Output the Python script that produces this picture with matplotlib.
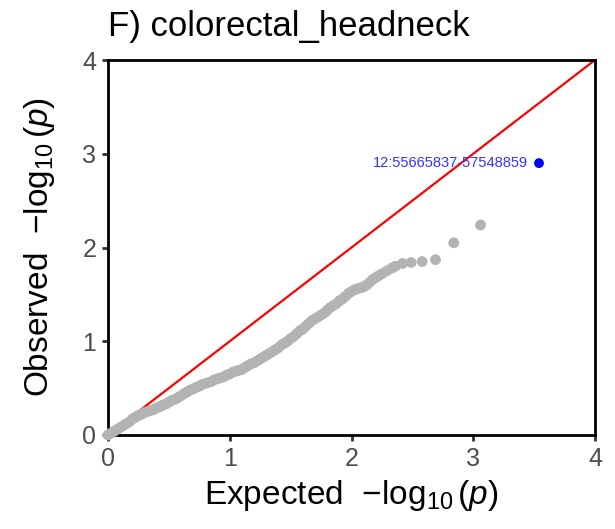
import matplotlib
matplotlib.use("Agg")
import matplotlib.pyplot as plt

plt.rcParams['font.family'] = ['Liberation Sans', 'DejaVu Sans']
plt.rcParams['mathtext.fontset'] = 'custom'
plt.rcParams['mathtext.rm'] = 'Liberation Sans'
plt.rcParams['mathtext.it'] = 'Liberation Sans:italic'
plt.rcParams['mathtext.default'] = 'rm'

title = "F) colorectal_headneck"
expected = [0.000, 0.025, 0.050, 0.075, 0.100, 0.125, 0.150, 0.175, 0.200, 0.225,
            0.250, 0.275, 0.300, 0.325, 0.350, 0.375, 0.400, 0.425, 0.450, 0.475,
            0.500, 0.525, 0.550, 0.575, 0.600, 0.625, 0.650, 0.675, 0.700, 0.725,
            0.750, 0.775, 0.800, 0.825, 0.850, 0.875, 0.900, 0.925, 0.950, 0.975,
            1.000, 1.025, 1.050, 1.075, 1.100, 1.125, 1.150, 1.175, 1.200, 1.225,
            1.250, 1.275, 1.300, 1.325, 1.350, 1.375, 1.400, 1.425, 1.450, 1.475,
            1.500, 1.525, 1.550, 1.575, 1.600, 1.625, 1.650, 1.675, 1.700, 1.725,
            1.750, 1.775, 1.800, 1.825, 1.850, 1.875, 1.900, 1.925, 1.950, 1.975,
            2.000, 2.025, 2.050, 2.075, 2.100, 2.125, 2.150, 2.175, 2.200, 2.225,
            2.250, 2.290, 2.330, 2.360, 2.420, 2.490, 2.580, 2.690, 2.840, 3.060]
observed = [0.00, 0.02, 0.04, 0.06, 0.08, 0.10, 0.12, 0.14, 0.17, 0.19,
            0.21, 0.22, 0.24, 0.25, 0.26, 0.27, 0.29, 0.30, 0.32, 0.33,
            0.35, 0.37, 0.38, 0.40, 0.42, 0.44, 0.46, 0.48, 0.49, 0.51,
            0.52, 0.54, 0.55, 0.56, 0.57, 0.59, 0.60, 0.61, 0.62, 0.64,
            0.65, 0.67, 0.68, 0.69, 0.70, 0.72, 0.74, 0.76, 0.77, 0.79,
            0.81, 0.83, 0.85, 0.87, 0.89, 0.91, 0.93, 0.96, 0.98, 1.00,
            1.03, 1.05, 1.08, 1.11, 1.13, 1.16, 1.19, 1.22, 1.24, 1.26,
            1.28, 1.30, 1.33, 1.36, 1.38, 1.40, 1.43, 1.45, 1.48, 1.51,
            1.53, 1.55, 1.56, 1.57, 1.58, 1.60, 1.63, 1.66, 1.68, 1.70,
            1.72, 1.75, 1.78, 1.80, 1.83, 1.84, 1.85, 1.87, 2.05, 2.24]
hit_expected = [3.54]
hit_observed = [2.90]
hit_label = ["12:55665837-57548859"]
ticks = [0, 1, 2, 3, 4]

fig = plt.figure(figsize=(6.15, 5.29), dpi=100)
ax = fig.add_axes([108/615, 1-435/529, (595-108)/615, (435-60)/529])

ax.plot([0, 4], [0, 4], color='#ff0000', lw=1.6, zorder=2)
ax.scatter(expected, observed, s=60, color='#b3b3b3', edgecolors='none', zorder=3, clip_on=False)
ax.scatter(hit_expected, hit_observed, s=50, color='#0000ff', edgecolors='none', zorder=4)
for xe, yo, lab in zip(hit_expected, hit_observed, hit_label):
    ax.annotate(lab, (xe, yo), xytext=(-8, 0), textcoords='offset points',
                ha='right', va='center', color='#3333ff', fontsize=10.5)

ax.set_xlim(0, 4)
ax.set_ylim(0, 4)
ax.set_xticks(ticks)
ax.set_yticks(ticks)
ax.set_xticklabels([str(t) for t in ticks])
ax.set_yticklabels([str(t) for t in ticks])
for s in ax.spines.values():
    s.set_linewidth(2.0)
    s.set_color('black')
ax.tick_params(axis='both', length=4.5, width=2.0, color='#333333',
               labelsize=18, labelcolor='#4d4d4d', pad=4)

ax.set_xlabel(r"Expected  $-\log_{10}(\mathit{p})$", fontsize=24, labelpad=5)
ax.set_ylabel(r"Observed  $-\log_{10}(\mathit{p})$", fontsize=24, labelpad=18)
fig.text(108/615, 1-36/529, title, fontsize=25, ha='left', va='baseline')

fig.savefig("out.png", dpi=100)
